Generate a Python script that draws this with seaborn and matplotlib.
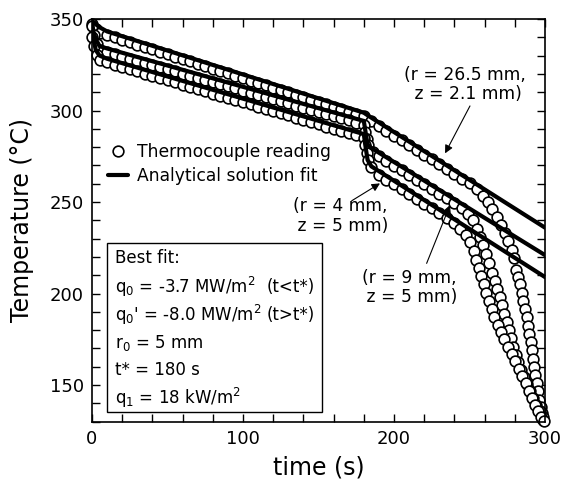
import numpy as np
import pandas as pd
import matplotlib
matplotlib.use("Agg")
import matplotlib.pyplot as plt
from matplotlib.lines import Line2D
from matplotlib.patches import Rectangle
import seaborn as sns

# thermocouple readings, r = 26.5 mm, z = 2.1 mm
t_top = [0, 2.5, 5, 10, 15, 20, 25, 30, 35, 40, 45, 50, 55, 60, 65, 70, 75, 80, 85, 90,
         95, 100, 105, 110, 115, 120, 125, 130, 135, 140, 145, 150, 155, 160, 165, 170,
         175, 180, 185, 190, 195, 200, 205, 210, 215, 220, 225, 230, 235, 240, 245, 250,
         255, 259, 262, 265, 268, 271, 273.5, 275.8, 277.8, 279.6, 281, 282.3, 283.5,
         284.6, 285.7, 286.8, 287.9, 288.8, 289.6, 290.4, 291.2, 292, 292.8, 293.6,
         294.4, 295.3, 296.2, 297.1, 298, 298.9]
T_top = [347.5, 344.8, 342.5, 341.2, 339.9, 338.6, 337.3, 336.0, 334.7, 333.4, 332.1, 330.8,
         329.4, 328.1, 326.8, 325.5, 324.2, 322.9, 321.6, 320.3, 319.0, 317.7, 316.4, 315.1,
         313.8, 312.5, 311.2, 309.9, 308.6, 307.3, 306.0, 304.6, 303.3, 302.0, 300.7, 299.4,
         298.1, 296.8, 294.2, 291.6, 289.0, 286.3, 283.7, 281.1, 278.4, 275.9, 273.3, 270.7,
         268.0, 265.4, 262.8, 260.2, 257.0, 253.5, 250.0, 246.0, 242.0, 237.5, 233.0, 228.5,
         224.0, 219.5, 213.0, 209.0, 205.0, 200.5, 196.0, 191.5, 187.0, 182.5, 178.0, 173.5,
         169.0, 164.5, 160.0, 155.5, 151.0, 146.5, 142.0, 138.0, 134.5, 131.0]

# thermocouple readings, r = 9 mm, z = 5 mm
t_mid = [0, 1.2, 3, 5, 10, 15, 20, 25, 30, 35, 40, 45, 50, 55, 60, 65, 70, 75, 80, 85, 90,
         95, 100, 105, 110, 115, 120, 125, 130, 135, 140, 145, 150, 155, 160, 165, 170, 175,
         180, 181, 182, 183, 186, 190, 195, 200, 205, 210, 215, 220, 225, 230, 235, 240,
         245, 249, 252.5, 255, 257, 259, 261, 263, 265, 266.8, 268.5, 270.1, 271.6, 273.1,
         274.6, 276.1, 277.6, 279.1, 280.7, 282.4, 284.2, 286.1, 288.1, 290.1, 292.2, 294.3,
         296.4, 298.5]
T_mid = [346.0, 341.0, 336.3, 333.0, 331.9, 330.7, 329.5, 328.4, 327.2, 326.0, 324.9, 323.7,
         322.6, 321.4, 320.2, 319.1, 317.9, 316.7, 315.6, 314.4, 313.2, 312.1, 310.9, 309.7,
         308.6, 307.4, 306.2, 305.1, 303.9, 302.7, 301.6, 300.4, 299.2, 298.1, 296.9, 295.7,
         294.6, 293.4, 292.3, 288.5, 284.5, 281.0, 277.5, 275.0, 272.4, 269.9, 267.3, 264.8,
         262.2, 259.7, 257.1, 254.6, 252.0, 249.5, 246.5, 243.5, 240.0, 235.5, 231.0, 226.5,
         221.5, 216.5, 211.5, 207.0, 202.5, 198.0, 193.5, 189.0, 184.5, 180.0, 175.5, 171.0,
         166.5, 162.5, 158.5, 154.5, 150.5, 146.8, 143.0, 139.3, 135.8, 132.3]

# thermocouple readings, r = 4 mm, z = 5 mm
t_low = [0, 1.2, 3, 5, 10, 15, 20, 25, 30, 35, 40, 45, 50, 55, 60, 65, 70, 75, 80, 85, 90,
         95, 100, 105, 110, 115, 120, 125, 130, 135, 140, 145, 150, 155, 160, 165, 170, 175,
         180, 181, 182, 183, 185, 190, 195, 200, 205, 210, 215, 220, 225, 230, 235, 240,
         244, 247.5, 250.5, 252.8, 254.6, 256.3, 257.9, 259.5, 261.1, 262.8, 264.6, 266.5,
         268.6, 270.8, 273.1, 275.5, 277.9, 280.3, 282.7, 285, 287.3, 289.5, 291.6, 293.6,
         295.6, 297.5, 299]
T_low = [340.0, 335.0, 330.5, 327.5, 326.3, 325.1, 323.9, 322.7, 321.4, 320.2, 319.0, 317.8,
         316.6, 315.4, 314.2, 313.0, 311.8, 310.6, 309.3, 308.1, 306.9, 305.7, 304.5, 303.3,
         302.1, 300.9, 299.7, 298.5, 297.3, 296.0, 294.8, 293.6, 292.4, 291.2, 290.0, 288.8,
         287.6, 286.4, 285.2, 281.0, 277.0, 273.0, 269.0, 264.9, 262.2, 259.6, 257.0, 254.4,
         251.7, 249.1, 246.5, 243.8, 241.2, 238.6, 235.5, 232.0, 228.0, 223.0, 218.5, 214.0,
         209.5, 205.0, 200.5, 196.0, 191.5, 187.0, 183.0, 179.0, 175.0, 171.0, 167.0, 163.0,
         159.0, 155.0, 151.0, 147.0, 143.0, 139.2, 135.6, 132.5, 130.5]

# analytical solution fits
fit_t_top = [0, 2, 5, 10, 180, 184, 300]
fit_T_top = [349.0, 347.5, 345.5, 343.2, 298.8, 296.6, 236.0]
fit_t_mid = [0, 1, 2.5, 5, 10, 180, 181, 182.5, 185, 300]
fit_T_mid = [348.0, 343.0, 339.0, 335.2, 333.9, 294.3, 289.0, 281.5, 279.5, 221.0]
fit_t_low = [0, 1, 2.5, 5, 10, 180, 181, 182.5, 185, 300]
fit_T_low = [347.0, 339.0, 333.0, 330.0, 328.3, 287.1, 281.0, 273.0, 269.5, 209.0]

box_lines = [r"q$_0$ = -3.7 MW/m$^2$", r"q$_0$' = -8.0 MW/m$^2$", r"r$_0$ = 5 mm",
             r"t* = 180 s", r"q$_1$ = 18 kW/m$^2$"]
box_notes = ["(t<t*)", "(t>t*)", "", "", ""]

sns.set_theme(style="ticks")
plt.rcParams["font.family"] = ["DejaVu Sans"]
plt.rcParams["mathtext.fontset"] = "dejavusans"
plt.rcParams["text.color"] = "black"
plt.rcParams["axes.labelcolor"] = "black"
plt.rcParams["xtick.color"] = "black"
plt.rcParams["ytick.color"] = "black"

fig = plt.figure(figsize=(5.62, 4.8), dpi=100)
ax = fig.add_axes([0.1637, 0.1215, 0.8061, 0.8389])

dots = pd.concat([
    pd.DataFrame({"t": t_top, "T": T_top, "tc": "a"}),
    pd.DataFrame({"t": t_mid, "T": T_mid, "tc": "b"}),
    pd.DataFrame({"t": t_low, "T": T_low, "tc": "c"}),
])
sns.scatterplot(data=dots, x="t", y="T", marker="o", s=60, color="white",
                edgecolor="black", linewidth=1.2, ax=ax, clip_on=False, zorder=2,
                legend=False)

for ft, fT in [(fit_t_top, fit_T_top), (fit_t_mid, fit_T_mid), (fit_t_low, fit_T_low)]:
    sns.lineplot(x=ft, y=fT, sort=False, estimator=None, color="black", lw=3.0,
                 ax=ax, zorder=3)

ax.set_xlim(0, 300)
ax.set_ylim(130, 350)
ax.set_xticks([0, 100, 200, 300])
ax.set_xticks(np.arange(0, 301, 20), minor=True)
ax.set_yticks([150, 200, 250, 300, 350])
ax.set_yticks(np.arange(130, 351, 10), minor=True)
ax.tick_params(which="both", direction="in", top=True, right=True, length=6,
               width=1.0, color="black")
ax.tick_params(which="major", labelsize=13, pad=6, labelcolor="black")
for sp in ax.spines.values():
    sp.set_linewidth(1.2)
    sp.set_color("black")

ax.set_xlabel("time (s)", fontsize=17, color="black")
ax.set_ylabel("Temperature (°C)", fontsize=17, color="black")
ax.yaxis.set_label_coords(-0.129, 0.5)
ax.xaxis.set_label_coords(0.5, -0.083)

# legend
handles = [Line2D([], [], ls="none", marker="o", ms=7.7, mfc="white", mec="black", mew=1.2),
           Line2D([], [], color="black", lw=3.0)]
ax.legend(handles, ["Thermocouple reading", "Analytical solution fit"],
          loc="upper left", bbox_to_anchor=(0.035, 0.691), frameon=False,
          fontsize=12.3, borderpad=0, borderaxespad=0, labelspacing=0.3,
          handlelength=1.2, handletextpad=0.5, labelcolor="black")

# labels with arrows
ax.text(247, 314.2, "(r = 26.5 mm,\n z = 2.1 mm)", ha="center", va="center",
        fontsize=12.3, linespacing=1.1)
ax.text(164.2, 242.3, "(r = 4 mm,\n z = 5 mm)", ha="center", va="center",
        fontsize=12.3, linespacing=1.1)
ax.text(210, 203.3, "(r = 9 mm,\n z = 5 mm)", ha="center", va="center",
        fontsize=12.3, linespacing=1.1)
arr = dict(arrowstyle="-|>", color="black", lw=0.8, mutation_scale=12, shrinkA=0, shrinkB=0)
ax.annotate("", xy=(233.8, 276.6), xytext=(250.3, 302.5), arrowprops=arr, zorder=5)
ax.annotate("", xy=(190.7, 260.2), xytext=(172, 250.7), arrowprops=arr, zorder=5)
ax.annotate("", xy=(237.1, 248.4), xytext=(221.6, 216.5), arrowprops=arr, zorder=5)

# best fit box
ax.add_patch(Rectangle((9.7, 135.4), 142.4, 92.0, facecolor="white", edgecolor="black",
                       lw=1.0, zorder=4))
ax.text(15.2, 219.4, "Best fit:", fontsize=12, va="center", zorder=5)
rows_T = [203.7, 188.3, 172.9, 158.2, 142.9]
for yy, s, n in zip(rows_T, box_lines, box_notes):
    ax.text(15.2, yy, s, fontsize=12, va="center", zorder=5)
    if n:
        ax.text(115.9, yy, n, fontsize=12, va="center", zorder=5)

fig.savefig("out.png", dpi=100)
